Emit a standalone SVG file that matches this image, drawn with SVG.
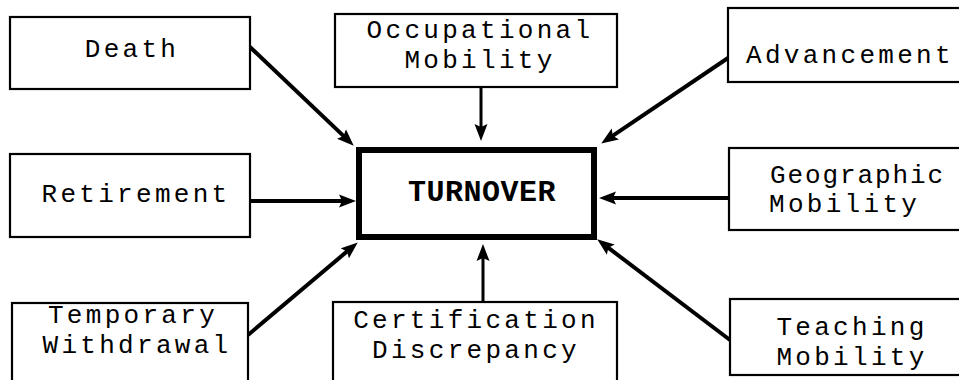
<svg xmlns="http://www.w3.org/2000/svg" width="959" height="380" viewBox="0 0 959 380">
<style>
.box{fill:#fff;stroke:#000;stroke-width:2.2}
.main{fill:#fff;stroke:#000;stroke-width:6}
.t{font-family:"Liberation Mono","DejaVu Sans Mono",monospace;font-size:26px;letter-spacing:3.3px;fill:#000;text-anchor:middle}
.ts{font-family:"Liberation Mono","DejaVu Sans Mono",monospace;font-size:26px;letter-spacing:3.3px;fill:#000;text-anchor:start}
.tn{letter-spacing:1.9px}
.tm{font-family:"Liberation Mono","Courier New",monospace;font-size:30px;font-weight:bold;letter-spacing:0.5px;fill:#000;text-anchor:middle}
.c{stroke:#000;stroke-width:4;fill:none;marker-end:url(#ah)}
.cv{stroke:#000;stroke-width:3;fill:none;marker-end:url(#ah)}
</style>
<defs>
<marker id="ah" markerUnits="userSpaceOnUse" markerWidth="18" markerHeight="14" refX="10" refY="7" orient="auto">
<path d="M0,0.5 L17,7 L0,13.5 L3,7 z" fill="#000"/>
</marker>
</defs>
<rect width="959" height="380" fill="#fff"/>
<g id="connectors">
<line class="c" x1="250" y1="47" x2="348.7" y2="140.9"/>
<line class="cv" x1="481" y1="87" x2="481" y2="134"/>
<line class="c" x1="728" y1="58" x2="607" y2="139.6"/>
<line class="c" x1="250" y1="201" x2="349" y2="201"/>
<line class="c" x1="729" y1="198" x2="606" y2="198"/>
<line class="c" x1="248" y1="335" x2="352.4" y2="246.9"/>
<line class="cv" x1="483" y1="302" x2="483" y2="251"/>
<line class="c" x1="730" y1="340" x2="602.8" y2="243.6"/>
</g>
<g id="death">
<rect class="box" x="10" y="17" width="240" height="72"/>
<text class="t" x="132" y="57">Death</text>
</g>
<g id="occupational">
<rect class="box" x="335" y="14" width="282" height="73"/>
<text class="t" x="480" y="38">Occupational</text>
<text class="t" x="480" y="68">Mobility</text>
</g>
<g id="advancement">
<rect class="box" x="728" y="8" width="260" height="74"/>
<text class="ts" x="746" y="63">Advancement</text>
</g>
<g id="retirement">
<rect class="box" x="10" y="154" width="240" height="83"/>
<text class="t" x="136" y="202">Retirement</text>
</g>
<g id="turnover">
<rect class="main" x="359" y="150" width="235" height="87"/>
<text class="tm" x="482" y="201">TURNOVER</text>
</g>
<g id="geographic">
<rect class="box" x="729" y="148" width="260" height="82"/>
<text class="ts tn" x="770" y="183">Geographic</text>
<text class="ts" x="769" y="212">Mobility</text>
</g>
<g id="temporary">
<rect class="box" x="12" y="303" width="236" height="90"/>
<text class="t" x="133" y="323">Temporary</text>
<text class="t" x="137" y="353">Withdrawal</text>
</g>
<g id="certification">
<rect class="box" x="333" y="302" width="284" height="90"/>
<text class="t" x="476" y="328">Certification</text>
<text class="t" x="476" y="358">Discrepancy</text>
</g>
<g id="teaching">
<rect class="box" x="730" y="299" width="260" height="76"/>
<text class="t" x="852" y="335">Teaching</text>
<text class="t" x="852" y="365">Mobility</text>
</g>
</svg>
